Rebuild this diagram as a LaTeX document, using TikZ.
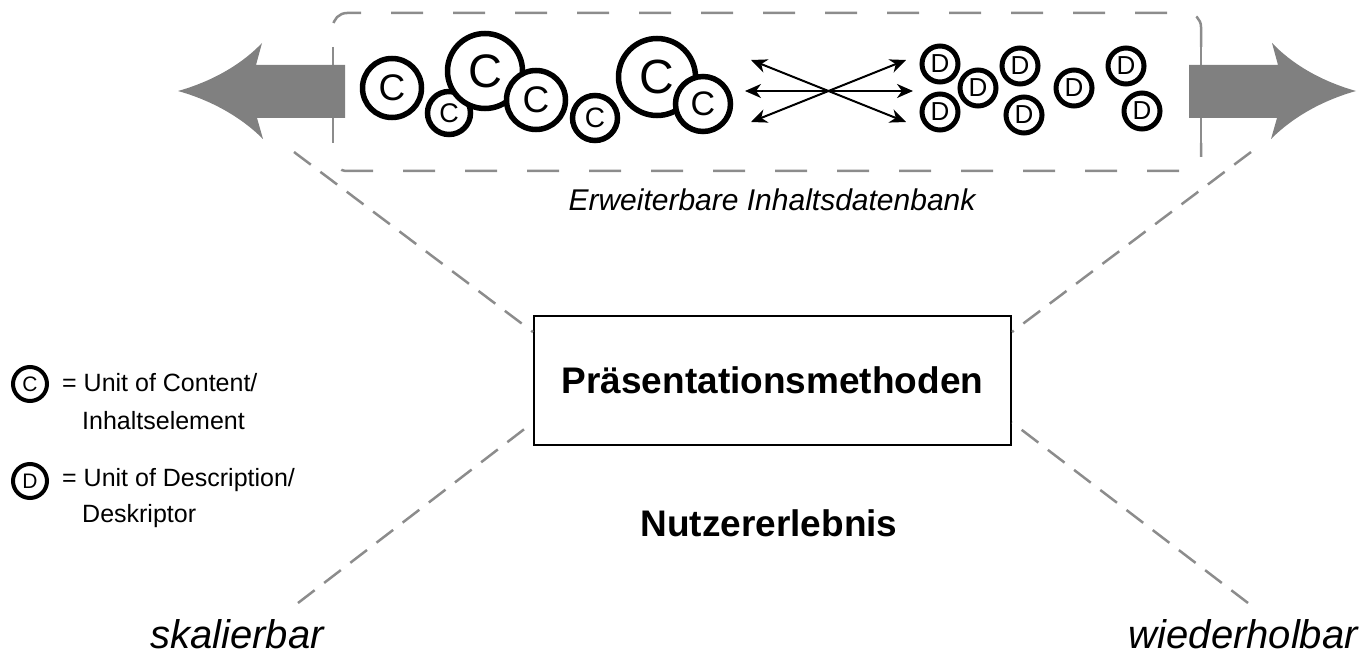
\documentclass[tikz,border=0pt]{standalone}
\usepackage{fontspec}
\setmainfont{Liberation Sans}
\usetikzlibrary{arrows.meta, calc}

\definecolor{arrowgray}{gray}{0.5}
\definecolor{linegray}{gray}{0.55}
\newcommand{\fsz}[1]{\fontsize{#1}{#1}\selectfont}

\begin{document}
\begin{tikzpicture}[x=1pt, y=-1pt,
    unit/.style={circle, draw, fill=white, line width=5.5pt, inner sep=0pt},
    cunit/.style={unit, minimum size=#1pt, font=\fsz{\the\numexpr #1*31/50\relax}},
    dunit/.style={unit, line width=5pt, minimum size=36pt, font=\fsz{26}},
    legunit/.style={unit, line width=4pt, minimum size=34pt, font=\fsz{21}},
    funnel/.style={linegray, line width=2.5pt, dash pattern=on 21pt off 12pt},
    dbline/.style={linegray, line width=2.5pt, dash pattern=on 32pt off 30pt},
    pfeil/.style={line width=2pt, {Stealth[length=16pt,width=14pt,inset=5pt]}-{Stealth[length=16pt,width=14pt,inset=5pt]}},
    legtext/.style={anchor=west, inner sep=0pt, font=\fsz{25}},
    corner/.style={inner sep=0pt, text depth=0pt, font=\fsz{40}\itshape}]
  \useasboundingbox (0,0) rectangle (1360,655);

  % database frame
  \draw[dbline, rounded corners=14pt, dash phase=38pt] (333,47) -- (333,13) -- (1201,13) -- (1201,47);
  \draw[dbline, rounded corners=14pt, dash phase=32pt] (333,143) -- (333,171) -- (1201,171) -- (1201,143);
  \draw[linegray, line width=2.5pt] (333,47) -- (333,143);
  \draw[linegray, line width=2.5pt] (1201,47) -- (1201,143);

  % growth arrows
  \fill[arrowgray] (345,65) -- (256,65) -- (262,43) .. controls (240,66) and (210,82) .. (178,91)
      .. controls (210,100) and (240,116) .. (263,139) -- (257,118) -- (345,118) -- cycle;
  \fill[arrowgray] (1189,65) -- (1278,65) -- (1272,43) .. controls (1294,66) and (1324,82) .. (1356,91)
      .. controls (1324,100) and (1294,116) .. (1271,139) -- (1277,118) -- (1189,118) -- cycle;

  % units of content
  \node[cunit=59] (c1) at (392,88) {C};
  \node[cunit=43] (c2) at (449,113) {C};
  \node[cunit=75] (c3) at (485,71) {C};
  \node[cunit=59] (c4) at (536,100) {C};
  \node[cunit=45] (c5) at (595,118) {C};
  \node[cunit=77] (c6) at (657,77) {C};
  \node[cunit=55] (c7) at (703,104) {C};

  % links
  \coordinate (hl) at (745,91);
  \coordinate (hr) at (913,91);
  \coordinate (ul) at (751,60);
  \coordinate (ur) at (906,60);
  \coordinate (ll) at (751,122);
  \coordinate (lr) at (906,122);
  \draw[pfeil] (hl) -- (hr);
  \draw[pfeil] (ul) -- (lr);
  \draw[pfeil] (ll) -- (ur);

  % units of description
  \node[dunit] (d1) at (940,64) {D};
  \node[dunit] (d2) at (940,112) {D};
  \node[dunit] (d3) at (978,88) {D};
  \node[dunit] (d4) at (1020,66) {D};
  \node[dunit] (d5) at (1024,115) {D};
  \node[dunit] (d6) at (1074,88) {D};
  \node[dunit] (d7) at (1126,66) {D};
  \node[dunit] (d8) at (1142,111) {D};

  \node[font=\fsz{30}\itshape] (dbname) at (772,200) {Erweiterbare Inhaltsdatenbank};

  \node[draw, line width=2pt, minimum width=477pt, minimum height=129pt, font=\fsz{37}\bfseries] (pm) at (772.5,380.5) {Präsentationsmethoden};
  \node[font=\fsz{37}\bfseries] (ux) at (769,523) {Nutzererlebnis};

  % funnel
  \coordinate (tl) at (294,152);
  \coordinate (tr) at (1251,152);
  \coordinate (bl) at (298,603);
  \coordinate (br) at (1248,603);
  \draw[funnel] (tl) -- ($(pm.north west)!0.13!(pm.south west)$);
  \draw[funnel] (tr) -- ($(pm.north east)!0.13!(pm.south east)$);
  \draw[funnel] (bl) -- ($(pm.north west)!0.82!(pm.south west)$);
  \draw[funnel] (br) -- ($(pm.north east)!0.82!(pm.south east)$);

  \node[corner, anchor=base west] (skal) at (150,648) {skalierbar};
  \node[corner, anchor=base east] (wied) at (1358,648) {wiederholbar};

  % legend
  \node[legunit] (lc) at (30,384) {C};
  \node[legtext] (lc1) at (62,383) {= Unit of Content/};
  \node[legtext] (lc2) at (82,421) {Inhaltselement};
  \node[legunit] (ld) at (30,481) {D};
  \node[legtext] (ld1) at (62,480) {= Unit of Description/};
  \node[legtext] (ld2) at (82,516) {Deskriptor};
\end{tikzpicture}
\end{document}
